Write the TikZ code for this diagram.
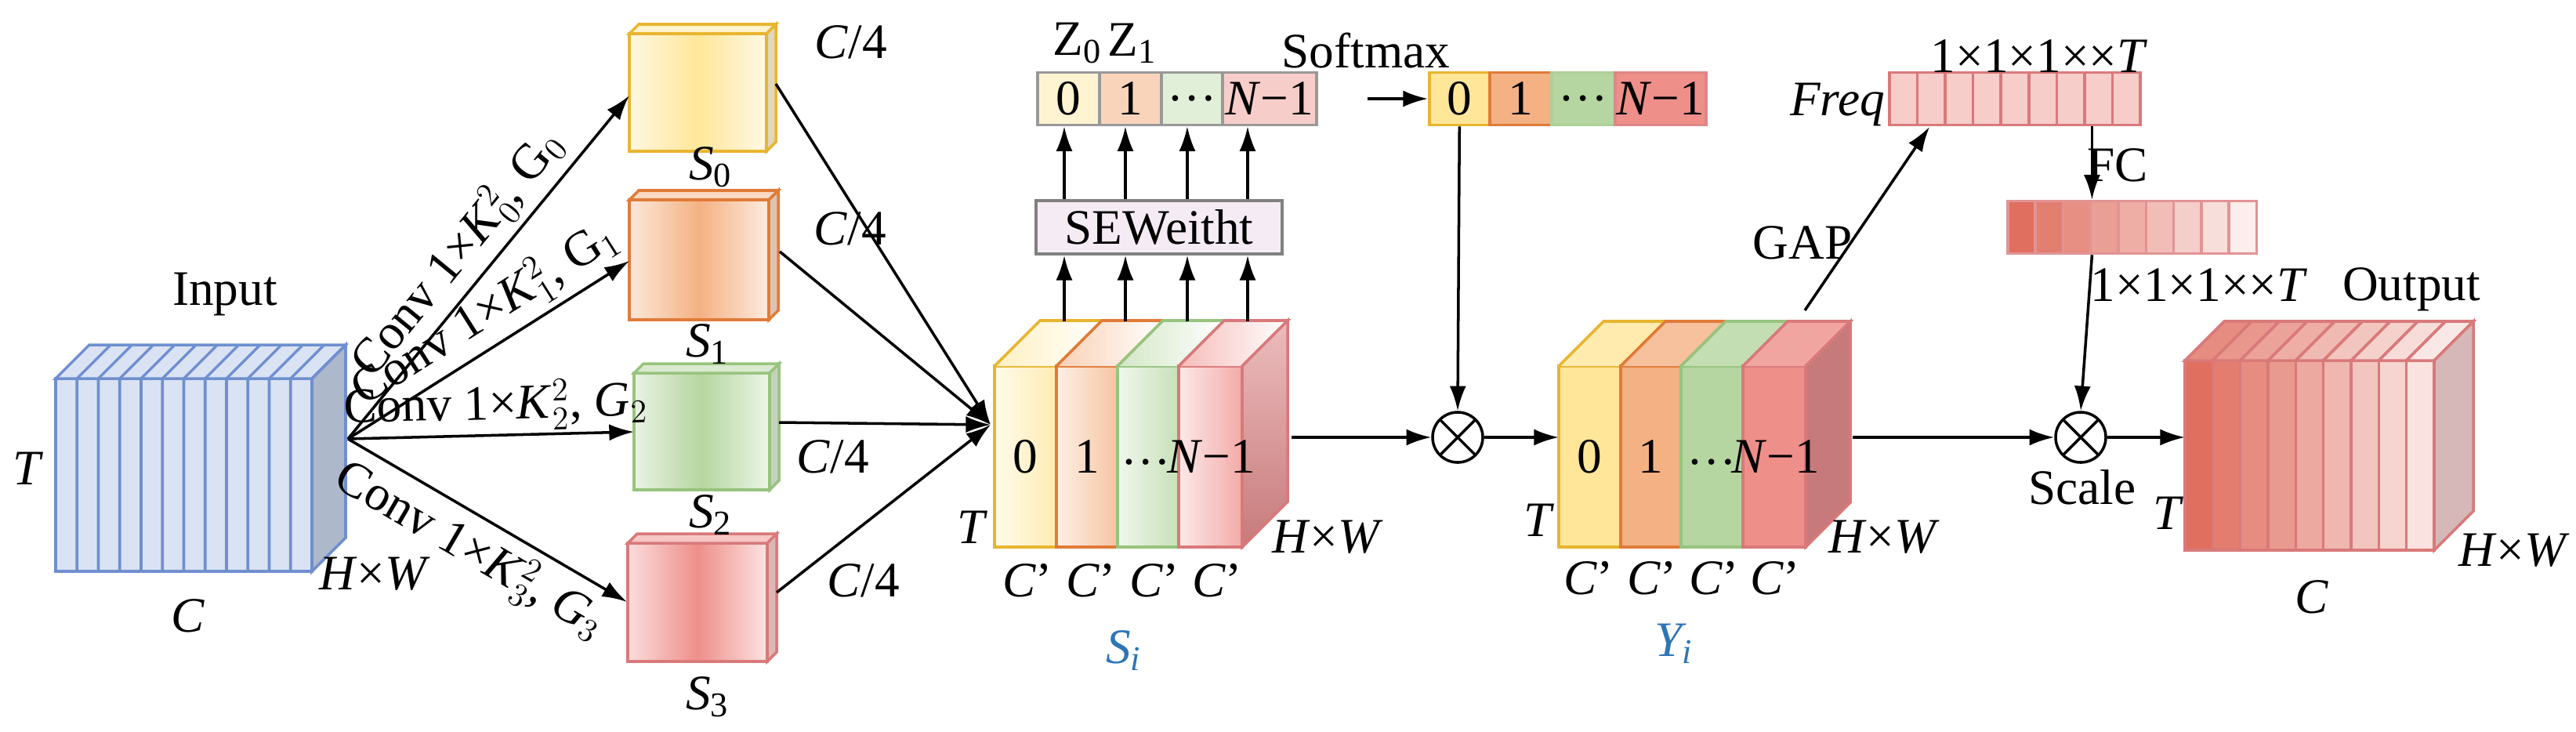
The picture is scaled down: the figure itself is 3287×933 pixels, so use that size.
\documentclass[tikz,border=0pt]{standalone}
\usepackage{fontspec}
\setmainfont{Liberation Serif}
\usetikzlibrary{arrows.meta,calc}
\definecolor{inblue}{HTML}{DAE3F3}\definecolor{inedge}{HTML}{6F8FCF}\definecolor{inside}{HTML}{ADB9CA}
\definecolor{cy}{HTML}{FFE699}\definecolor{ey}{HTML}{E8B530}
\definecolor{co}{HTML}{F4B183}\definecolor{eo}{HTML}{E07B39}
\definecolor{cg}{HTML}{B5D6A0}\definecolor{eg}{HTML}{97C47E}
\definecolor{cr}{HTML}{EE8F8A}\definecolor{er}{HTML}{D9797A}
\definecolor{outred}{HTML}{E06F60}\definecolor{blu}{HTML}{2E75B6}
\begin{document}
\begin{tikzpicture}[x=0.01cm,y=-0.01cm,font=\rmfamily\fontsize{18}{21}\selectfont,
 arr/.style={-{Latex[length=9pt,width=6pt]},line width=1pt},
 ln/.style={line width=1pt},
 cell/.style={draw,line width=1pt,minimum height=0.67cm,inner sep=0pt,anchor=west},
 otimes/.style={circle,draw,line width=1pt,minimum size=0.64cm,inner sep=0pt,
   path picture={\draw[line width=1pt] (path picture bounding box.north west)--(path picture bounding box.south east) (path picture bounding box.north east)--(path picture bounding box.south west);}}]
\useasboundingbox (0,0) rectangle (3287,933);

% ---------- Input cube
\draw[inedge,line width=1pt,fill=inblue] (71,483) rectangle (398,729);
\draw[inedge,line width=1pt,fill=inblue] (71,483)--(114,440)--(441,440)--(398,483)--cycle;
\draw[inedge,line width=1pt,fill=inside] (398,483)--(441,440)--(441,686)--(398,729)--cycle;
\foreach \i in {1,...,12}{\draw[inedge,line width=1pt] ({71+\i*27.25},729)--({71+\i*27.25},483)--++(43,-43);}
\coordinate (src) at (444,560);
\node at (287,376) {Input};
\node at (36,598) {\textit{T}};
\node at (240,786) {\textit{C}};
\node at (478,732) {\textit{H}×\textit{W}};

% ---------- S boxes
\foreach \n/\xa/\ya/\xb/\yb/\c/\e in {0/803/43/978/193/cy/ey,1/803/255/981/408/co/eo,2/809/476/982/625/cg/eg,3/801/693/979/844/cr/er}{
  \shade[left color=\c!30!white,right color=\c] (\xa,\ya) rectangle ({(\xa+\xb)/2},\yb);
  \shade[left color=\c,right color=\c!25!white] ({(\xa+\xb)/2},\ya) rectangle (\xb,\yb);
  \draw[\e,line width=1pt] (\xa,\ya) rectangle (\xb,\yb);
  \draw[\e,line width=1pt,fill=\c!50!white] (\xa,\ya)--++(12,-12)--(\xb+12,\ya-12)--(\xb,\ya)--cycle;
  \draw[\e,line width=1pt,fill=\c!60!gray!60] (\xb,\ya)--(\xb+12,\ya-12)--(\xb+12,\yb-12)--(\xb,\yb)--cycle;
}
\coordinate (s0in) at (803,122);\coordinate (s1in) at (803,333);
\coordinate (s2in) at (809,551);\coordinate (s3in) at (800,768);
\coordinate (s0out) at (990,107);\coordinate (s1out) at (995,321);
\coordinate (s2out) at (994,539);\coordinate (s3out) at (991,756);
\node at (907,213) {\textit{S}\textsubscript{0}};
\node at (903,439) {\textit{S}\textsubscript{1}};
\node at (907,657) {\textit{S}\textsubscript{2}};
\node at (903,889) {\textit{S}\textsubscript{3}};
\node at (1086,54) {\textit{C}/4};
\node at (1085,292) {\textit{C}/4};
\node at (1063,583) {\textit{C}/4};
\node at (1102,741) {\textit{C}/4};

\draw[arr] (src)--node[sloped,above,pos=0.48,inner sep=2pt]{Conv 1×\textit{K}$_0^2$, G$_0$}(s0in);
\draw[arr] (src)--node[sloped,above,pos=0.55,inner sep=2pt]{Conv 1×\textit{K}$_1^2$, G$_1$}(s1in);
\draw[arr] (src)--node[sloped,above,pos=0.52,inner sep=1pt]{Conv 1×\textit{K}$_2^2$, \textit{G}$_2$}(s2in);
\draw[arr] (src)--node[sloped,below,pos=0.5,inner sep=3pt]{Conv 1×\textit{K}$_3^2$, \textit{G}$_3$}(s3in);

% ---------- S_i block
\coordinate (siin) at (1264,542);
\foreach \s in {0,1,2,3}{\draw[arr] (s\s out)--(siin);}
\foreach \xa/\xb/\c/\e in {1269/1348/cy/ey,1348/1426/co/eo,1426/1504/cg/eg,1504/1585/cr/er}{
  \shade[left color=\c!20!white,right color=\c!75!white] (\xa,467) rectangle (\xb,698);
  \draw[\e,line width=1pt] (\xa,467) rectangle (\xb,698);
  \shade[left color=\c!60!white,right color=white] (\xa,467)--(\xa+58,409)--(\xb+58,409)--(\xb,467)--cycle;
  \draw[\e,line width=1pt] (\xa,467)--(\xa+58,409)--(\xb+58,409)--(\xb,467);
}
\shade[top color=er!50!white,bottom color=er!80!gray] (1585,467)--(1643,409)--(1643,640)--(1585,698)--cycle;
\draw[er,line width=1pt] (1585,467)--(1643,409)--(1643,640)--(1585,698)--cycle;
\node at (1308,583) {0};\node at (1387,583) {1};\node at (1462,590) {…};\node at (1546,583) {\textit{N}−1};
\foreach \x in {1311,1392,1473,1553}{\node at (\x,741) {\textit{C}’};}
\node at (1241,673) {\textit{T}};
\node at (1694,685) {\textit{H}×\textit{W}};
\node[blu] at (1434,830) {\textit{S\textsubscript{i}}};

% ---------- SE weight and Z
\node[draw=gray,line width=1pt,fill=violet!8,minimum width=3.14cm,minimum height=0.68cm] (se) at (1479,290) {SEWeitht};
\node[cell,draw=gray!80,fill=cy!45!white,minimum width=0.79cm] (z0) at (1322,126) {0};
\node[cell,draw=gray!80,fill=co!55!white,minimum width=0.79cm] (z1) at (1401,126) {1};
\node[cell,draw=gray!80,fill=cg!40!white,minimum width=0.78cm] (z2) at (1480,126) {…};
\node[cell,draw=gray!80,fill=cr!45!white,minimum width=1.2cm] (z3) at (1558,126) {\textit{N}−1};
\foreach \k/\x in {0/1358,1/1436,2/1515,3/1592}{
  \coordinate (t\k) at (\x,410);
  \draw[arr] (t\k)--(se.south -| t\k);
  \draw[arr] (se.north -| t\k)--(z\k.south -| t\k);
}
\node at (1375,55) {Z\textsubscript{0}};
\node at (1445,55) {Z\textsubscript{1}};
\node at (1743,65) {Softmax};
\node[cell,draw=ey,fill=cy,minimum width=0.77cm] (m0) at (1822,126) {0};
\node[cell,draw=eo,fill=co,minimum width=0.79cm] (m1) at (1899,126) {1};
\node[cell,draw=eg!80,fill=cg,minimum width=0.81cm] (m2) at (1978,126) {…};
\node[cell,draw=er!90,fill=cr,minimum width=1.16cm] (m3) at (2059,126) {\textit{N}−1};
\draw[arr,shorten <=18pt] (z3.east)--(m0.west);

\node[otimes] (ot1) at (1860,558) {};
\draw[arr] (m0.south)--(ot1.north);
\coordinate (siout) at (1648,558);
\draw[arr] (siout)--(ot1.west);

% ---------- Y_i block
\coordinate (yiin) at (1989,558);
\draw[arr] (ot1.east)--(yiin);
\foreach \xa/\xb/\c/\e in {1989/2068/cy/ey,2068/2145/co/eo,2145/2224/cg/eg,2224/2304/cr/er}{
  \draw[\e,line width=1pt,fill=\c] (\xa,467) rectangle (\xb,698);
  \draw[\e,line width=1pt,fill=\c!80!white] (\xa,467)--(\xa+57,410)--(\xb+57,410)--(\xb,467);
}
\draw[er,line width=1pt,fill=er!80!gray] (2304,467)--(2361,410)--(2361,641)--(2304,698)--cycle;
\node at (2028,583) {0};\node at (2106,583) {1};\node at (2184,590) {…};\node at (2266,583) {\textit{N}−1};
\foreach \x in {2027,2108,2187,2265}{\node at (\x,738) {\textit{C}’};}
\node at (1964,664) {\textit{T}};
\node at (2404,685) {\textit{H}×\textit{W}};
\node[blu] at (2136,821) {\textit{Y\textsubscript{i}}};

% ---------- GAP / Freq / FC
\foreach \i in {0,...,8}{\node[cell,draw=er,fill=cr!45!white,minimum width=0.356cm] (f\i) at ({2409+\i*35.6},126) {};}
\coordinate (gapst) at (2303,396);
\coordinate (gapend) at (2462,162);
\draw[arr] (gapst)--(gapend);
\node at (2300,310) {GAP};
\node[anchor=east,inner sep=1pt] at (2409,134) {\textit{Freq}};
\node at (2602,72) {1×1×1××\textit{T}};
\foreach \i in {0,...,8}{
  \pgfmathtruncatemacro\pc{100-\i*11}
  \node[cell,draw=er!80,fill=outred!\pc!white,minimum width=0.353cm] (fc\i) at ({2560+\i*35.3},290) {};}
\draw[arr] (f7.south -| fc2.east)--(fc2.north east);
\node at (2702,211) {FC};
\node at (2806,364) {1×1×1××\textit{T}};
\node[otimes] (ot2) at (2655,558) {};
\draw[arr] (fc2.south east)--(ot2.north);
\node at (2657,622) {Scale};
\coordinate (yiout) at (2364,558);
\draw[arr] (yiout)--(ot2.west);

% ---------- Output cube
\coordinate (outin) at (2788,558);
\draw[arr] (ot2.east)--(outin);
\foreach \i in {0,...,8}{
  \pgfmathtruncatemacro\pc{100-\i*10}
  \pgfmathtruncatemacro\pt{80-\i*8}
  \pgfmathsetmacro\xa{2788+\i*35.33}
  \draw[er,line width=1pt,fill=outred!\pc!white] (\xa,460) rectangle (\xa+35.33,702);
  \draw[er,line width=1pt,fill=outred!\pt!white] (\xa,460)--(\xa+50,410)--(\xa+85.33,410)--(\xa+35.33,460)--cycle;
}
\draw[er,line width=1pt,fill=gray!40!pink!80] (3106,460)--(3156,410)--(3156,652)--(3106,702)--cycle;
\node at (3077,369) {Output};
\node at (2767,655) {\textit{T}};
\node at (2950,762) {\textit{C}};
\node at (3208,702) {\textit{H}×\textit{W}};
\end{tikzpicture}
\end{document}
